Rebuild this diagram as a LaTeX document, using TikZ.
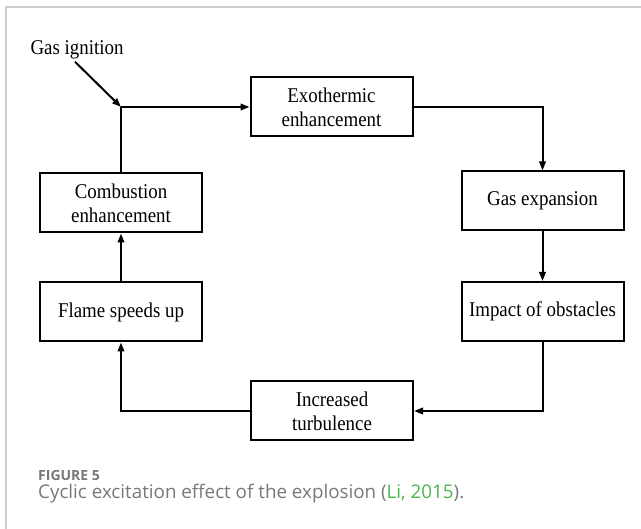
\documentclass[tikz,border=0pt]{standalone}
\usepackage{fontspec}
\setmainfont[FakeStretch=0.9]{Liberation Serif}
\newfontfamily\capfont{Open Sans}
\usetikzlibrary{arrows.meta,positioning}
\definecolor{framegray}{RGB}{204,204,204}
\definecolor{capgray}{RGB}{120,120,120}
\definecolor{citegreen}{RGB}{80,180,80}
\newcommand\StageBox[4]{%
    \node[stagebox] (#1) at (#2,#3) {#4};
}
\begin{document}
\begin{tikzpicture}[x=1pt,y=-1pt,
    stagebox/.style={draw,line width=2pt,minimum width=162pt,minimum height=59pt,
        align=center,inner sep=0pt,font=\fontsize{21}{24}\selectfont},
    flow/.style={line width=2pt,-{Triangle[length=9pt,width=6.5pt]}},
    plain/.style={line width=2pt}]
    \useasboundingbox (0,0) rectangle (641,529);
    \draw[framegray,line width=1.2pt] (6,529) -- (6,7) -- (641,7);
    % stages
    \StageBox{exo}{331.5}{107}{Exothermic\\enhancement}
    \StageBox{gasexp}{542.5}{201}{Gas expansion}
    \StageBox{impact}{542.5}{311.5}{Impact of obstacles}
    \StageBox{turb}{332}{411}{Increased\\turbulence}
    \StageBox{flame}{121}{312}{Flame speeds up}
    \StageBox{comb}{121}{203}{Combustion\\enhancement}
    \node[font=\fontsize{21}{24}\selectfont] (ign) at (77,50) {Gas ignition};
    \coordinate (junc) at (comb |- exo.west);
    % loop
    \draw[plain] (comb) -- (junc);
    \draw[flow] (ign.south) ++(-2,-1) -- (junc);
    \draw[flow] (junc) -- (exo);
    \draw[flow] (exo.east) -| (gasexp.north);
    \draw[flow] (gasexp) -- (impact);
    \draw[flow] (impact.south) |- (turb.east);
    \draw[flow] (turb.west) -| (flame.south);
    \draw[flow] (flame) -- (comb);
    % caption
    \node[anchor=base west,inner sep=0pt,text=capgray,font=\capfont\fontsize{14}{16}\selectfont\bfseries] (capnum) at (38,481) {FIGURE 5};
    \node[anchor=base west,inner sep=0pt,text=capgray,font=\capfont\fontsize{18.8}{21}\selectfont] (captext) at (38,499) {Cyclic excitation effect of the explosion (\textcolor{citegreen}{Li, 2015}).};
\end{tikzpicture}
\end{document}
